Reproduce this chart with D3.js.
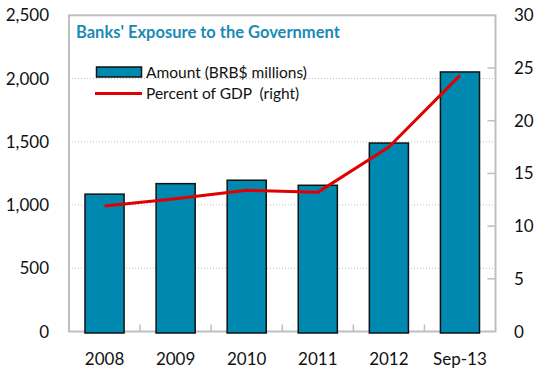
<!DOCTYPE html>
<html><head><meta charset="utf-8">
<script src="https://d3js.org/d3.v7.min.js"></script>
<style>body{margin:0;background:#fff}svg{display:block}text{white-space:pre}</style>
</head><body>
<svg id="c" width="534" height="369"></svg>
<script>
const categories = ["2008","2009","2010","2011","2012","Sep-13"];
const amount = [1086, 1169, 1196, 1156, 1490, 2052];
const pctGDP = [11.9, 12.6, 13.4, 13.2, 17.5, 24.3];
const leftTicks = [0, 500, 1000, 1500, 2000, 2500];
const rightTicks = [0, 5, 10, 15, 20, 25, 30];
const title = "Banks' Exposure to the Government";
const legendLabels = ["Amount (BRB$ millions)", "Percent of GDP  (right)"];

const svg = d3.select("#c");
const L = 69, R = 495.5, T = 15.3, B = 331.5;
const font = "Lato, 'Open Sans', sans-serif";

const x = d3.scaleBand().domain(categories).range([L, R]).paddingInner(0.45).paddingOuter(0.225);
const xb = d3.scaleBand().domain(categories).range([L, R]);
const yL = d3.scaleLinear().domain([0, 2500]).range([B, T]);
const yR = d3.scaleLinear().domain([0, 30]).range([B, T]);

// gridlines
svg.append("g").selectAll("line").data(leftTicks.filter(d => d > 0 && d < 2500)).join("line")
  .attr("x1", L).attr("x2", R).attr("y1", d => yL(d)).attr("y2", d => yL(d))
  .attr("stroke", "#bdbdbd").attr("stroke-width", 1).attr("stroke-dasharray", "1,2");

// frame
svg.append("rect").attr("x", L).attr("y", T).attr("width", R - L).attr("height", B - T)
  .attr("fill", "none").attr("stroke", "#bfbfbf").attr("stroke-width", 2);

// x minor ticks at band boundaries
svg.append("g").selectAll("line").data(categories.slice(1)).join("line")
  .attr("x1", d => xb(d)).attr("x2", d => xb(d)).attr("y1", B).attr("y2", B - 7)
  .attr("stroke", "#bfbfbf").attr("stroke-width", 1.5);

// right ticks inward
svg.append("g").selectAll("line").data(rightTicks.filter(d => d > 0 && d < 30)).join("line")
  .attr("x1", R - 8).attr("x2", R).attr("y1", d => yR(d)).attr("y2", d => yR(d))
  .attr("stroke", "#bfbfbf").attr("stroke-width", 1.5);

// bars
svg.append("g").selectAll("rect").data(amount).join("rect")
  .attr("x", (d, i) => x(categories[i])).attr("width", x.bandwidth())
  .attr("y", d => yL(d)).attr("height", d => yL(0) - yL(d) + 1.5)
  .attr("fill", "#0089b0").attr("stroke", "#111").attr("stroke-width", 1.5);

// line
const line = d3.line().x((d, i) => x(categories[i]) + x.bandwidth() / 2).y(d => yR(d));
svg.append("path").datum(pctGDP).attr("d", line)
  .attr("fill", "none").attr("stroke", "#e00000").attr("stroke-width", 3).attr("stroke-linejoin", "round");

// left tick labels
svg.append("g").selectAll("text").data(leftTicks).join("text")
  .attr("x", 49).attr("y", d => yL(d) + 6).attr("text-anchor", "end")
  .attr("font-family", font).attr("font-size", 17).attr("fill", "#111")
  .text(d => d3.format(",")(d));

// right tick labels
svg.append("g").selectAll("text").data(rightTicks).join("text")
  .attr("x", 514).attr("y", d => yR(d) + 6).attr("text-anchor", "start")
  .attr("font-family", font).attr("font-size", 17).attr("fill", "#111")
  .text(d => d);

// x labels
svg.append("g").selectAll("text").data(categories).join("text")
  .attr("x", d => x(d) + x.bandwidth() / 2).attr("y", 365).attr("text-anchor", "middle")
  .attr("font-family", font).attr("font-size", 17).attr("fill", "#111")
  .text(d => d);

// title
svg.append("text").attr("x", 76).attr("y", 37.5)
  .attr("font-family", font).attr("font-weight", "bold").attr("font-size", 16.5).attr("fill", "#1a8ab5")
  .text(title);

// legend
svg.append("rect").attr("x", 96.5).attr("y", 67).attr("width", 45).attr("height", 10)
  .attr("fill", "#0089b0").attr("stroke", "#111").attr("stroke-width", 1.5);
svg.append("line").attr("x1", 95).attr("x2", 142).attr("y1", 93.5).attr("y2", 93.5)
  .attr("stroke", "#e00000").attr("stroke-width", 3);
svg.append("g").selectAll("text").data(legendLabels).join("text")
  .attr("x", 146).attr("y", (d, i) => 77.5 + i * 21.5)
  .attr("font-family", font).attr("font-size", 15.5).attr("fill", "#111")
  .text(d => d);
</script>
</body></html>
